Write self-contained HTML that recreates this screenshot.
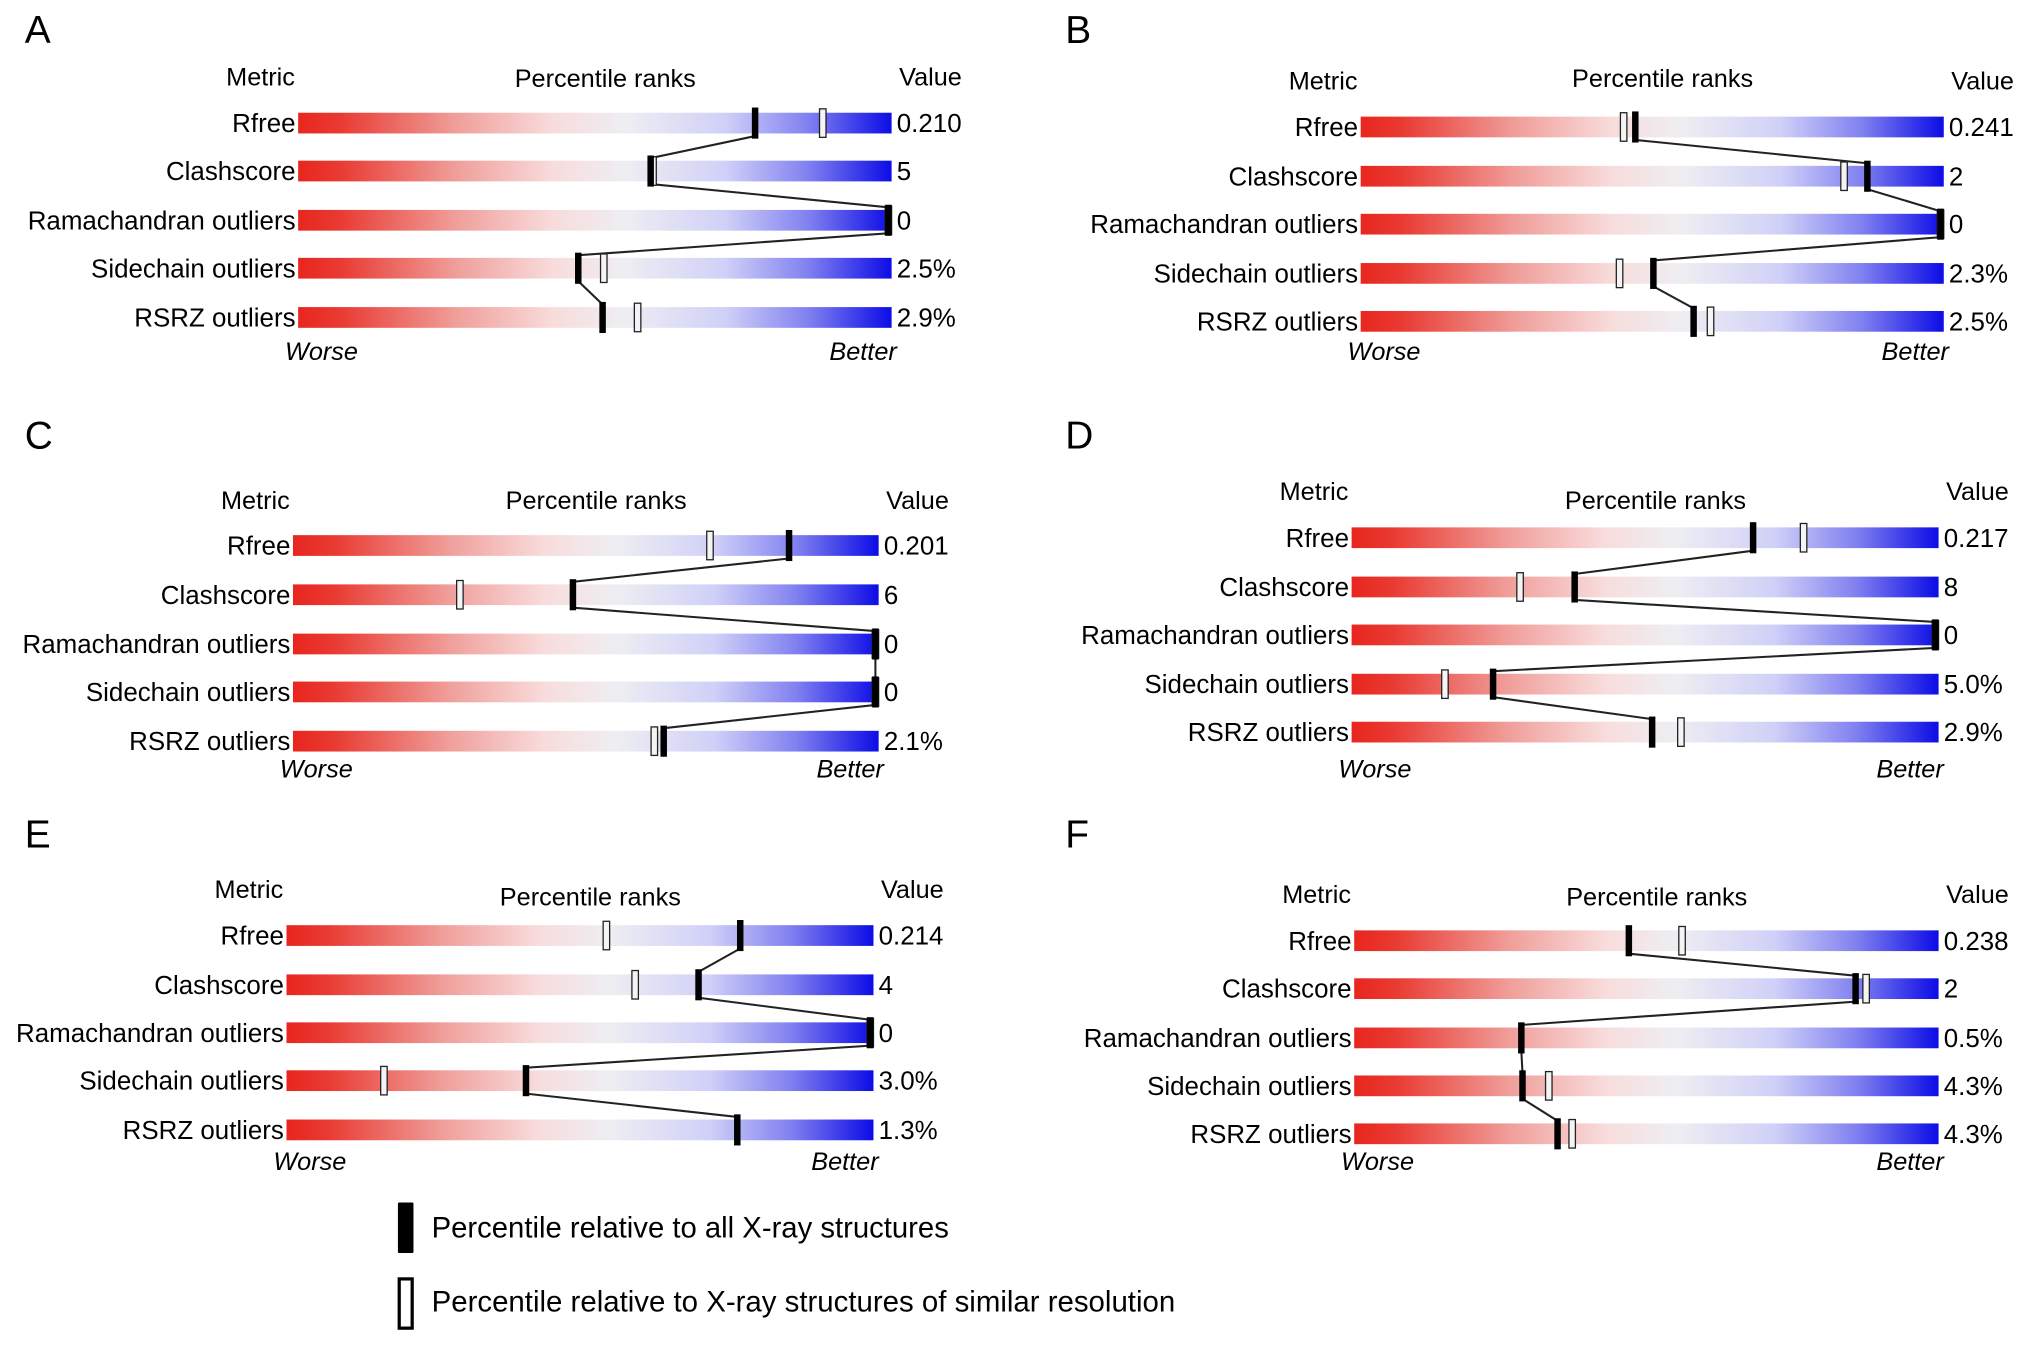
<!DOCTYPE html>
<html><head><meta charset="utf-8">
<style>
html,body{margin:0;padding:0;background:#fff;}
svg{display:block;font-family:"Liberation Sans",Arial,sans-serif;}
</style></head>
<body>
<svg id="fig" width="2032" height="1345" viewBox="0 0 1568 1038" xmlns="http://www.w3.org/2000/svg">
<defs>
<linearGradient id="grad" x1="0" x2="1" y1="0" y2="0">
<stop offset="0" stop-color="#e8261e"/>
<stop offset="0.07" stop-color="#e93a32"/>
<stop offset="0.27" stop-color="#f0a09c"/>
<stop offset="0.43" stop-color="#f8dcdc"/>
<stop offset="0.55" stop-color="#eeeef2"/>
<stop offset="0.72" stop-color="#d0d0f8"/>
<stop offset="0.86" stop-color="#8080f0"/>
<stop offset="1" stop-color="#0c0ce6"/>
</linearGradient>
</defs>
</svg>
<script>
const metrics = ["Rfree","Clashscore","Ramachandran outliers","Sidechain outliers","RSRZ outliers"];
const panelLetters = ["A","B","C","D","E","F"];
const valuesA = ["0.210","5","0","2.5%","2.9%"];
const valuesB = ["0.241","2","0","2.3%","2.5%"];
const valuesC = ["0.201","6","0","0","2.1%"];
const valuesD = ["0.217","8","0","5.0%","2.9%"];
const valuesE = ["0.214","4","0","3.0%","1.3%"];
const valuesF = ["0.238","2","0.5%","4.3%","4.3%"];
const allA = [77,59.4,100,47.2,51.3];
const simA = [88.4,59.8,100,51.5,57.2];
const allB = [47.1,86.9,99.8,50.2,57.1];
const simB = [45.1,82.9,100,44.4,60];
const allC = [84.7,47.8,100,100,63.3];
const simC = [71.2,28.5,100,100,61.7];
const allD = [68.4,38,100,24.1,51.2];
const simD = [77,28.7,100,15.9,56.1];
const allE = [77.3,70.2,100,40.8,76.8];
const simE = [54.5,59.4,100,16.6,null];
const allF = [47,85.8,28.6,28.8,34.8];
const simF = [56.1,87.6,null,33.3,37.3];

const allVals=[allA,allB,allC,allD,allE,allF];
const simVals=[simA,simB,simC,simD,simE,simF];
const valTexts=[valuesA,valuesB,valuesC,valuesD,valuesE,valuesF];
const layouts=[
 {lx:30,ly:22,x0:230,x1:688,rows:[95,132,170,207,245],hm:59,hp:60,hv:59,wb:271},
 {lx:833,ly:22,x0:1050,x1:1500,rows:[98,136,173,211,248],hm:62,hp:60,hv:62,wb:271},
 {lx:30,ly:335,x0:226,x1:678,rows:[421,459,497,534,572],hm:386,hp:386,hv:386,wb:593},
 {lx:833,ly:335,x0:1043,x1:1496,rows:[415,453,490,528,565],hm:379,hp:386,hv:379,wb:593},
 {lx:30,ly:643,x0:221,x1:674,rows:[722,760,797,834,872],hm:686,hp:692,hv:686,wb:896},
 {lx:833,ly:643,x0:1045,x1:1496,rows:[726,763,801,838,875],hm:690,hp:692,hv:690,wb:896}
];
const NS="http://www.w3.org/2000/svg";
const svg=document.getElementById('fig');
function mk(tag,attrs,parent,text){const e=document.createElementNS(NS,tag);for(const k in attrs)e.setAttribute(k,attrs[k]);if(text!==undefined)e.textContent=text;(parent||svg).appendChild(e);return e;}
const BH=16, MH=24, MW=5;
layouts.forEach((L,p)=>{
  const g=mk('g',{});
  
  
  const xs=v=>L.x0+(L.x1-L.x0)*v/100;
  let t=mk('text',{x:L.lx-11,y:L.ly+11,'font-size':30},g,panelLetters[p]);
  
  t=mk('text',{x:L.x0-29,y:L.hm+7,'font-size':19.5,'text-anchor':'middle'},g,'Metric');
  
  t=mk('text',{x:(L.x0+L.x1)/2+8,y:L.hp+7,'font-size':19.5,'text-anchor':'middle'},g,'Percentile ranks');
  
  t=mk('text',{x:L.x1+30,y:L.hv+7,'font-size':19.5,'text-anchor':'middle'},g,'Value');
  
  metrics.forEach((m,i)=>{
    const y=L.rows[i];
    let r=mk('rect',{x:L.x0,y:y-BH/2,width:L.x1-L.x0,height:BH,fill:'url(#grad)'},g);
    
    let lt=mk('text',{x:L.x0-2,y:y+7,'font-size':20,'text-anchor':'end'},g,m);
    
    let vt=mk('text',{x:L.x1+4,y:y+7,'font-size':20},g,valTexts[p][i]);
    
  });
  const pts=[];
  allVals[p].forEach((v,i)=>{const x=Math.min(xs(v),L.x1-MW/2);const y=L.rows[i];if(i>0)pts.push(x+','+(y-MH/2+2));pts.push(x+','+(y+(i<4?MH/2-2:0)));});
  let pl=mk('polyline',{points:pts.join(' '),fill:'none',stroke:'#222','stroke-width':1.6},g);
  
  simVals[p].forEach((v,i)=>{
    if(v===null)return;
    const x=Math.min(xs(v),L.x1-MW/2);
    let r=mk('rect',{x:x-MW/2,y:L.rows[i]-MH/2+1,width:MW,height:MH-2,fill:'#f4f4f4',stroke:'#222','stroke-width':1},g);
    
  });
  allVals[p].forEach((v,i)=>{
    const x=Math.min(xs(v),L.x1-MW/2);
    let r=mk('rect',{x:x-MW/2,y:L.rows[i]-MH/2,width:MW,height:MH,fill:'#000'},g);
    
  });
  t=mk('text',{x:L.x0+18,y:L.wb+7,'font-size':19.5,'font-style':'italic','text-anchor':'middle'},g,'Worse');
  
  t=mk('text',{x:L.x1+4,y:L.wb+7,'font-size':19.5,'font-style':'italic','text-anchor':'end'},g,'Better');
  
});
const lg=mk('g',{});


let e=mk('rect',{x:307,y:928,width:12,height:39,fill:'#000',rx:1},lg);

e=mk('text',{x:333,y:955,'font-size':22.6},lg,'Percentile relative to all X-ray structures');

e=mk('rect',{x:308,y:987,width:10,height:38,fill:'#fff',stroke:'#000','stroke-width':2.5},lg);

e=mk('text',{x:333,y:1012,'font-size':22.7},lg,'Percentile relative to X-ray structures of similar resolution');

</script>
</body></html>
